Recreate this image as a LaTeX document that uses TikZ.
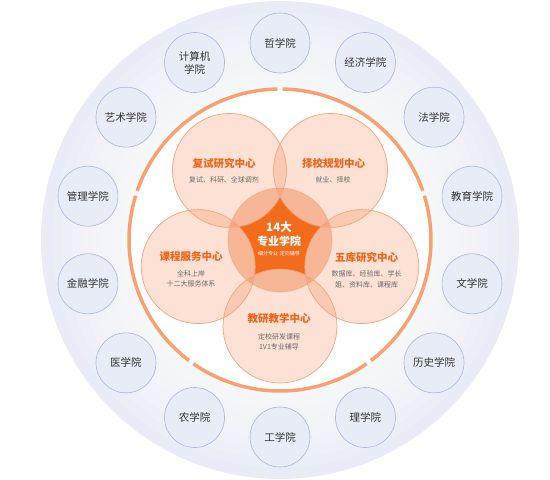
\documentclass[tikz,border=0pt]{standalone}
\usepackage{fontspec}
\setmainfont{Noto Sans CJK SC}
\definecolor{orng}{HTML}{F06A28}
\definecolor{ringc}{HTML}{F8A173}
\definecolor{petalline}{HTML}{F3A47D}
\definecolor{titlec}{HTML}{F06418}
\definecolor{starc}{HTML}{F36C1C}
\definecolor{bgout}{HTML}{E9ECF6}
\definecolor{smallfill}{HTML}{E8ECF6}
\definecolor{smallline}{HTML}{A6B4E0}
\definecolor{labelc}{HTML}{333333}
\definecolor{subc}{HTML}{6B6B6B}
\tikzset{
  smallc/.style={circle, draw=smallline, fill=smallfill, line width=0.6pt, minimum size=60pt, inner sep=0pt, align=center, text=labelc, font=\fontsize{10.5}{13}\selectfont},
  titletxt/.style={text=titlec, font=\fontsize{10.5}{12}\selectfont\bfseries, inner sep=0pt},
  subtxt/.style={text=subc, font=\fontsize{7}{10.5}\selectfont, align=center, inner sep=0pt},
  petalfill/.style={fill=orng, fill opacity=0.2},
  petalstroke/.style={draw=petalline, line width=0.7pt},
  ringarc/.style={draw=ringc, line width=3.5pt}
}
\begin{document}
\begin{tikzpicture}[x=1pt,y=-1pt]
\useasboundingbox (0,0) rectangle (550,480);
\coordinate (C) at (280,240);
% background
\fill[bgout] (C) circle (239pt);
\foreach \r in {228,218,208,198,188,178,168,158}{
  \fill[white, fill opacity=0.14] (C) circle (\r pt);
}
\fill[white] (C) circle (150pt);
% orange ring
\foreach \a in {18,90,162,234,306}{
  \draw[ringarc] ([shift={(\a+1:151pt)}]C) arc[start angle=\a+1, end angle=\a+71, radius=151pt];
}
% outer colleges
\foreach \lab [count=\k from 0] in {哲学院,经济学院,法学院,教育学院,文学院,历史学院,理学院,工学院,农学院,医学院,金融学院,管理学院,艺术学院,{计算机\\学院}}{
  \node[smallc] (o\k) at ([shift={(90-\k*360/14:197pt)}]C) {\lab};
}
% petal centres
\coordinate (pFS) at ([shift={(126:86pt)}]C);
\coordinate (pZX) at ([shift={(54:86pt)}]C);
\coordinate (pWK) at ([shift={(-18:86pt)}]C);
\coordinate (pJY) at ([shift={(-90:86pt)}]C);
\coordinate (pKC) at ([shift={(198:86pt)}]C);
% petal fills
\foreach \p in {pFS,pZX,pWK,pJY,pKC}{
  \fill[petalfill] (\p) circle (57pt);
}
\fill[orng, fill opacity=0.35] (C) circle (52pt);
% star
\begin{scope}
  \clip (C) circle (52pt);
  \clip (pFS) circle (57pt) (0,0) -- (550,0) -- (550,480) -- (0,480) -- cycle;
  \clip (pZX) circle (57pt) (0,0) -- (550,0) -- (550,480) -- (0,480) -- cycle;
  \clip (pWK) circle (57pt) (0,0) -- (550,0) -- (550,480) -- (0,480) -- cycle;
  \clip (pJY) circle (57pt) (0,0) -- (550,0) -- (550,480) -- (0,480) -- cycle;
  \clip (pKC) circle (57pt) (0,0) -- (550,0) -- (550,480) -- (0,480) -- cycle;
  \fill[starc] (C) circle (52pt);
\end{scope}
% strokes
\foreach \p in {pFS,pZX,pWK,pJY,pKC}{
  \draw[petalstroke] (\p) circle (57pt);
}
\draw[petalstroke, draw opacity=0.6] (C) circle (52pt);
% texts
\node[titletxt] (tFS) at (224,163) {复试研究中心};
\node[subtxt] (sFS) at (224,180) {复试、科研、全球调剂};
\node[titletxt] (tZX) at (333.5,163) {择校规划中心};
\node[subtxt] (sZX) at (333,180) {就业、择校};
\node[titletxt] (tKC) at (191,256.7) {课程服务中心};
\node[subtxt] (sKC) at (191,279) {全科上岸\\十二大服务体系};
\node[titletxt] (tWK) at (366.7,257) {五库研究中心};
\node[subtxt] (sWK) at (366.7,279.3) {数据库、经验库、学长\\姐、资料库、课程库};
\node[titletxt] (tJY) at (279,319) {教研教学中心};
\node[subtxt] (sJY) at (279,342) {定校研发课程\\1V1专业辅导};
\node[text=white, font=\fontsize{11.5}{13}\selectfont\bfseries, inner sep=0pt] (c1) at (279,227) {14大};
\node[text=white, font=\fontsize{11}{13}\selectfont\bfseries, inner sep=0pt] (c2) at (279,241.7) {专业学院};
\node[text=white, font=\fontsize{5}{6}\selectfont, inner sep=0pt] (c3) at (279,254) {细分专业\,\,定向辅导};
\end{tikzpicture}
\end{document}
